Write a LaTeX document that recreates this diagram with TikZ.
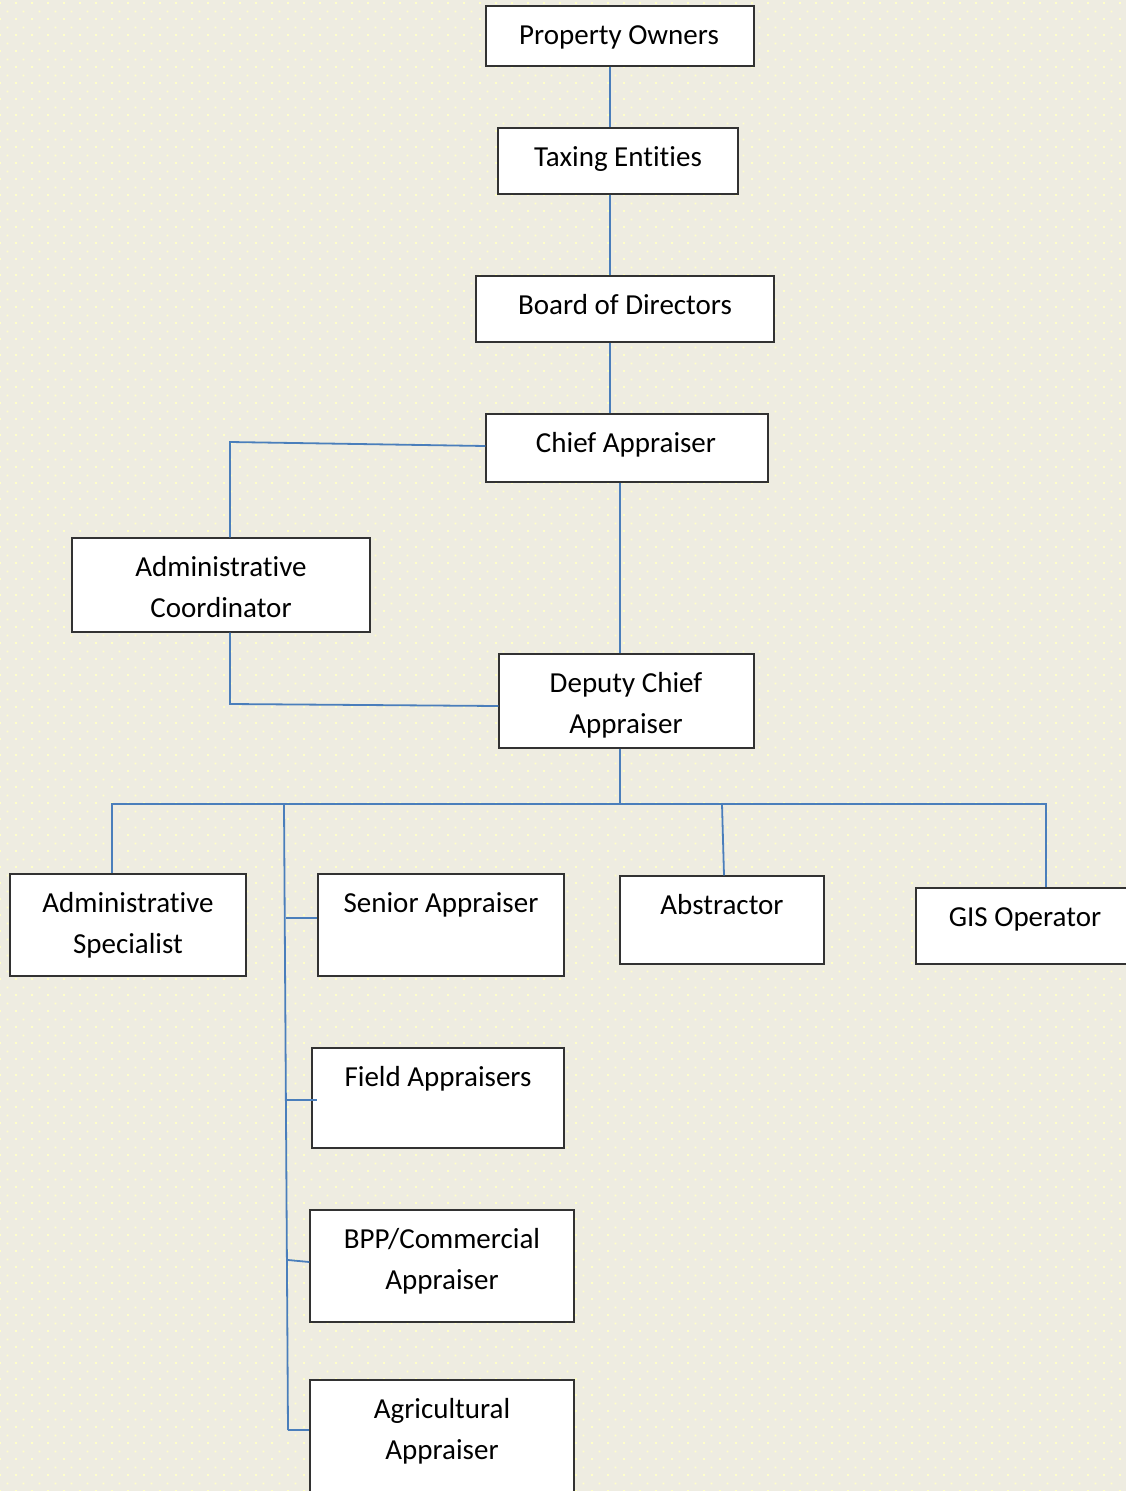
\documentclass[tikz,border=0pt]{standalone}
\usepackage{fontspec}
\setmainfont[Ligatures={NoCommon,NoContextual}]{Carlito}
\usetikzlibrary{patterns,calc}
\definecolor{bgc}{RGB}{238,236,225}
\definecolor{dotc}{RGB}{255,255,200}
\definecolor{linec}{RGB}{74,126,187}
\definecolor{boxc}{RGB}{50,50,50}
\pgfdeclarepatternformonly{bgdots}{\pgfpointorigin}{\pgfpoint{16pt}{16pt}}{\pgfpoint{16pt}{16pt}}{%
  \pgfpathrectangle{\pgfpoint{0pt}{0pt}}{\pgfpoint{2pt}{2pt}}%
  \pgfpathrectangle{\pgfpoint{8pt}{8pt}}{\pgfpoint{2pt}{2pt}}%
  \pgfusepath{fill}}
\tikzset{
  box/.style={draw=boxc, fill=white, line width=1.3pt, inner sep=0pt, rectangle},
  lbl/.style={font=\fontsize{29}{41}\selectfont, inner sep=0pt, anchor=base},
  conn/.style={draw=linec, line width=1.8pt}
}
\newcommand{\twol}[2]{\begin{tabular}[t]{@{}c@{}}#1\\#2\end{tabular}}
\begin{document}
\begin{tikzpicture}[x=1pt,y=-1pt]
\path[use as bounding box] (0,0) rectangle (1126,1491);
\clip (0,0) rectangle (1126,1491);
\fill[bgc] (0,0) rectangle (1126,1491);
\fill[pattern=bgdots, pattern color=dotc] (0,0) rectangle (1126,1491);

% boxes
\node[box, minimum width=268pt, minimum height=60pt] (po) at (620,36) {};
\node[box, minimum width=240pt, minimum height=66pt] (te) at (618,161) {};
\node[box, minimum width=298pt, minimum height=66pt] (bd) at (625,309) {};
\node[box, minimum width=282pt, minimum height=68pt] (ca) at (627,448) {};
\node[box, minimum width=298pt, minimum height=94pt] (ac) at (221,585) {};
\node[box, minimum width=255pt, minimum height=94pt] (dc) at (626.5,701) {};
\node[box, minimum width=236pt, minimum height=102pt] (as) at (128,925) {};
\node[box, minimum width=246pt, minimum height=102pt] (sa) at (441,925) {};
\node[box, minimum width=204pt, minimum height=88pt] (ab) at (722,920) {};
\node[box, minimum width=224pt, minimum height=76pt] (gis) at (1028,926) {};
\node[box, minimum width=252pt, minimum height=100pt] (fa) at (438,1098) {};
\node[box, minimum width=264pt, minimum height=112pt] (bpp) at (442,1266) {};
\node[box, minimum width=264pt, minimum height=120pt] (ag) at (442,1440) {};

% labels
\node[lbl] (po-t) at (619,44) {Property Owners};
\node[lbl] (te-t) at (618,166) {Taxing Entities};
\node[lbl] (bd-t) at (625,314) {Board of Directors};
\node[lbl] (ca-t) at (626,452) {Chief Appraiser};
\node[lbl] (ac-t) at (221,576) {\twol{Administrative}{Coordinator}};
\node[lbl] (dc-t) at (626,692) {\twol{Deputy Chief}{Appraiser}};
\node[lbl] (as-t) at (128,912) {\twol{Administrative}{Specialist}};
\node[lbl] (sa-t) at (441,912) {Senior Appraiser};
\node[lbl] (ab-t) at (722,914) {Abstractor};
\node[lbl] (gis-t) at (1025,926) {GIS Operator};
\node[lbl] (fa-t) at (438,1086) {Field Appraisers};
\node[lbl] (bpp-t) at (442,1248) {\twol{BPP/Commercial}{Appraiser}};
\node[lbl] (ag-t) at (442,1418) {\twol{Agricultural}{Appraiser}};

% junction coordinates
\coordinate (sp) at (610,0);
\coordinate (sp2) at (620,0);
\coordinate (k1) at (230,442);
\coordinate (k2) at (230,704);
\coordinate (bus) at (620,804);
\coordinate (b1) at (112,804);
\coordinate (b2) at (284,804);
\coordinate (b4) at (722,804);
\coordinate (b5) at (1046,804);
\coordinate (t1) at (286,918);
\coordinate (t2) at (287,1100);
\coordinate (t3) at (288,1260);
\coordinate (t4) at (288,1430);

% connectors
\draw[conn] (po.south -| sp) -- (te.north -| sp);
\draw[conn] (te.south -| sp) -- (bd.north -| sp);
\draw[conn] (bd.south -| sp) -- (ca.north -| sp);
\draw[conn] ([yshift=2pt]ca.west) -- (k1) -- (ac.north -| k1);
\draw[conn] (ac.south -| k1) -- (k2) -- ([yshift=-5pt]dc.west);
\draw[conn] (ca.south -| sp2) -- (dc.north -| sp2);
\draw[conn] (dc.south -| sp2) -- (bus);
\draw[conn] (as.north -| b1) -- (b1) -- (b5) -- (gis.north -| b5);
\draw[conn] (b4) -- ([xshift=2pt]ab.north);
\draw[conn] (b2) -- (t4);
\draw[conn] (t1) -- (sa.west |- t1);
\draw[conn] (t2) -- ([xshift=6pt]fa.west |- t2);
\draw[conn] (t3) -- ([yshift=4pt]bpp.west);
\draw[conn] (t4) -- (ag.west |- t4);
\end{tikzpicture}
\end{document}
